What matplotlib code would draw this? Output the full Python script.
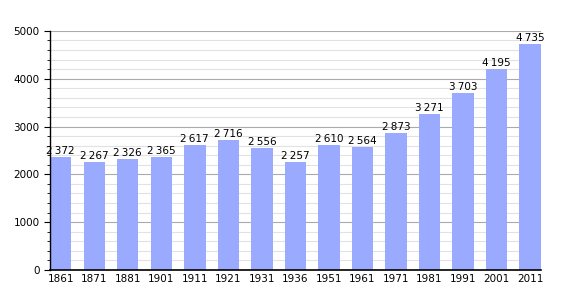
import matplotlib
matplotlib.use("Agg")
import matplotlib.pyplot as plt
from matplotlib.ticker import MultipleLocator

# ── Data ───────────────────────────────────────────────────────────────────────

years = ["1861", "1871", "1881", "1901", "1911", "1921", "1931", "1936",
         "1951", "1961", "1971", "1981", "1991", "2001", "2011"]
population = [2372, 2267, 2326, 2365, 2617, 2716, 2556, 2257,
              2610, 2564, 2873, 3271, 3703, 4195, 4735]

# ── Plot ───────────────────────────────────────────────────────────────────────

fig = plt.figure(figsize=(5.7, 3.0), dpi=100)
ax = fig.add_axes([0.0877, 0.1, 0.861, 0.797])

width = 0.64
x = range(len(years))
bars = ax.bar(x, population, width=width, color="#99aaff", zorder=2)

for xi, v in zip(x, population):
    label = f"{v:,}".replace(",", "\u2009")
    ax.text(xi, v + 20, label, ha="center", va="bottom", fontsize=7.5,
            color="black", zorder=3)

ax.set_xlim(-width / 2, len(years) - 1 + width / 2)
ax.set_ylim(0, 5000)
ax.set_xticks(list(x))
ax.set_xticklabels(years, fontsize=7.5)
ax.yaxis.set_major_locator(MultipleLocator(1000))
ax.yaxis.set_minor_locator(MultipleLocator(200))
ax.tick_params(axis="y", labelsize=7.5, length=4, width=0.8)
ax.tick_params(axis="y", which="minor", length=2, width=0.6)
ax.tick_params(axis="x", length=0, pad=3)

ax.grid(axis="y", which="major", color="#aaaaaa", linewidth=0.8, zorder=0)
ax.grid(axis="y", which="minor", color="#e2e2e2", linewidth=0.8, zorder=0)
ax.set_axisbelow(True)

for side in ("top", "right"):
    ax.spines[side].set_visible(False)
ax.spines["left"].set_linewidth(1.0)
ax.spines["bottom"].set_linewidth(1.2)

fig.savefig("out.png", dpi=100)
